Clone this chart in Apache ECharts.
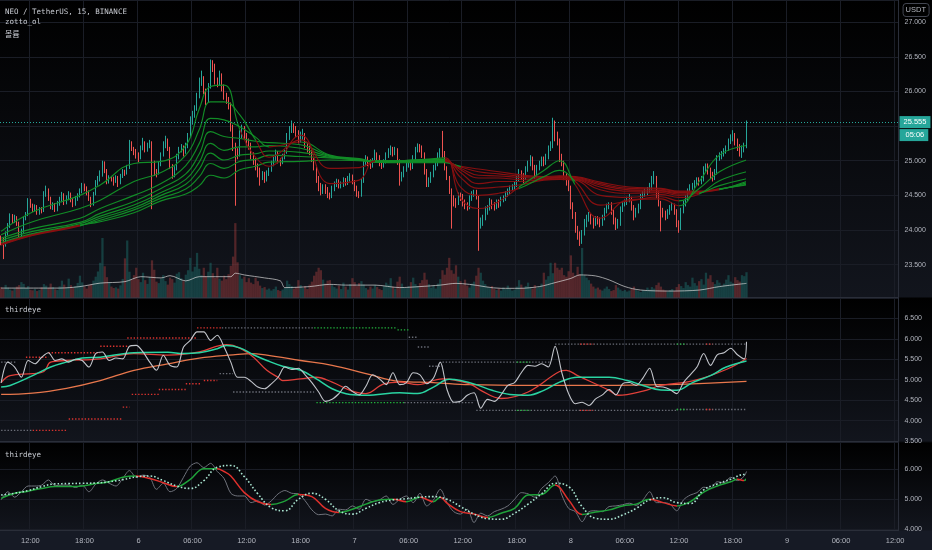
<!DOCTYPE html>
<html><head><meta charset="utf-8">
<script src="https://cdn.jsdelivr.net/npm/echarts/dist/echarts.min.js"></script>
<style>
html,body{margin:0;padding:0;width:932px;height:550px;overflow:hidden;
background:linear-gradient(to bottom,#000 0px,#12151d 297px,#000 298px,#12151d 441px,#000 443px,#12151d 530px,#161a25 531px,#161a25 550px);}
#c{width:932px;height:550px;}
</style></head><body><div id="c"></div>
<script>
// ================= DATA =================
// 15-minute slots from day 5 08:45 (399 slots fill the visible time range)
const categories = [];
for (let k = 0; k < 399; k++) {
  const m = 8 * 60 + 45 + 15 * k;
  const day = 5 + Math.floor(m / 1440), hm = m % 1440;
  categories.push(day + ' ' + String(Math.floor(hm / 60)).padStart(2, '0') + ':' + String(hm % 60).padStart(2, '0'));
}
const timeTicks = ['12:00','18:00','6','06:00','12:00','18:00','7','06:00','12:00','18:00','8','06:00','12:00','18:00','9','06:00','12:00'];

const firstOpen = 23.88;
const closes = [
23.86,23.80,23.95,24.06,24.20,24.14,24.18,24.10,23.95,23.98,
24.18,24.22,24.42,24.36,24.30,24.34,24.26,24.30,24.28,24.52,
24.58,24.46,24.34,24.36,24.30,24.38,24.44,24.50,24.40,24.46,
24.52,24.44,24.38,24.46,24.50,24.56,24.64,24.60,24.55,24.46,
24.38,24.52,24.68,24.74,24.80,24.96,24.86,24.70,24.76,24.74,
24.72,24.76,24.68,24.78,24.84,24.82,24.90,25.24,25.18,25.14,
25.08,25.04,25.18,25.26,25.16,25.22,25.26,24.98,24.84,24.82,
24.96,25.08,25.22,25.30,25.18,24.92,24.80,24.88,25.06,25.16,
25.20,25.12,25.22,25.36,25.58,25.66,25.76,25.92,26.14,26.18,
26.00,25.86,26.08,26.40,26.36,26.16,26.12,26.22,26.06,25.94,
25.88,25.80,25.48,25.20,25.12,25.10,25.38,25.46,25.36,25.28,
25.22,25.08,25.00,24.92,24.86,24.78,24.80,24.74,24.82,24.86,
24.96,25.04,25.10,25.00,24.98,25.06,25.12,25.34,25.44,25.50,
25.46,25.40,25.30,25.36,25.38,25.22,25.18,25.14,25.02,24.92,
24.74,24.64,24.56,24.62,24.58,24.50,24.48,24.60,24.66,24.70,
24.64,24.66,24.72,24.68,24.74,24.76,24.70,24.60,24.52,24.50,
24.70,24.96,25.02,24.98,24.94,25.00,25.10,25.04,24.98,24.94,
24.98,25.08,25.12,25.16,25.12,25.16,25.00,24.76,24.80,24.88,
24.94,24.96,24.90,25.04,25.16,25.20,25.18,25.10,24.86,24.66,
24.72,24.80,24.90,24.96,25.08,25.12,25.10,24.90,24.76,24.58,
24.44,24.42,24.40,24.50,24.48,24.40,24.36,24.34,24.46,24.52,
24.54,24.48,24.10,24.12,24.18,24.28,24.32,24.40,24.36,24.34,
24.40,24.38,24.44,24.46,24.52,24.56,24.60,24.62,24.66,24.74,
24.82,24.78,24.76,24.88,24.96,25.02,24.92,24.80,24.90,24.96,
25.02,24.98,25.06,25.18,25.22,25.40,25.36,25.30,25.04,24.98,
24.78,24.70,24.62,24.36,24.22,24.04,23.94,23.84,23.96,24.10,
24.16,24.20,24.14,24.10,24.16,24.14,24.10,24.18,24.28,24.34,
24.36,24.28,24.14,24.08,24.10,24.30,24.38,24.40,24.44,24.46,
24.34,24.22,24.28,24.34,24.48,24.52,24.56,24.58,24.62,24.72,
24.76,24.52,24.40,24.28,24.24,24.20,24.26,24.32,24.34,24.28,
24.10,24.04,24.28,24.38,24.46,24.56,24.62,24.64,24.68,24.72,
24.70,24.74,24.88,24.92,24.86,24.80,24.76,24.84,25.04,25.08,
25.10,25.14,25.18,25.28,25.32,25.36,25.28,25.20,25.14,25.18,
25.22,25.555];
const lows = [
23.78,23.58,23.76,23.92,24.03,24.10,24.10,24.06,23.90,23.88,
23.96,24.14,24.20,24.32,24.26,24.27,24.22,24.22,24.24,24.26,
24.48,24.42,24.30,24.29,24.26,24.27,24.35,24.40,24.36,24.37,
24.43,24.40,24.33,24.35,24.42,24.47,24.53,24.56,24.50,24.42,
24.33,24.35,24.50,24.64,24.70,24.77,24.82,24.66,24.67,24.70,
24.64,24.68,24.62,24.66,24.75,24.78,24.80,24.88,25.14,25.08,
25.03,24.98,25.02,25.15,25.12,25.13,25.18,24.30,24.78,24.76,
24.80,24.92,25.06,25.18,25.14,24.88,24.74,24.76,24.86,25.02,
25.12,25.06,25.10,25.18,25.34,25.52,25.62,25.72,25.90,26.08,
25.96,25.80,25.84,26.04,26.28,26.10,26.06,26.08,26.00,25.88,
25.82,25.74,25.42,25.14,24.35,25.02,25.06,25.32,25.30,25.22,
25.16,25.02,24.94,24.86,24.76,24.64,24.72,24.68,24.70,24.78,
24.84,24.92,25.00,24.96,24.92,24.95,25.02,25.10,25.30,25.40,
25.40,25.34,25.25,25.26,25.30,25.18,25.12,25.08,24.98,24.86,
24.68,24.56,24.50,24.52,24.52,24.46,24.44,24.46,24.56,24.62,
24.60,24.60,24.62,24.64,24.65,24.70,24.66,24.56,24.48,24.46,
24.48,24.68,24.92,24.92,24.88,24.90,24.98,24.98,24.92,24.88,
24.90,24.96,25.04,25.08,25.06,25.08,24.94,24.64,24.70,24.76,
24.84,24.90,24.86,24.88,25.00,25.12,25.12,25.04,24.80,24.62,
24.62,24.68,24.76,24.86,24.92,25.04,25.04,24.86,24.72,24.52,
24.02,24.34,24.32,24.36,24.42,24.34,24.30,24.28,24.30,24.42,
24.48,24.44,23.70,24.02,24.06,24.14,24.22,24.28,24.30,24.28,
24.30,24.32,24.34,24.40,24.42,24.48,24.52,24.56,24.58,24.62,
24.70,24.72,24.68,24.72,24.84,24.92,24.86,24.74,24.76,24.86,
24.92,24.92,24.94,25.02,25.14,25.18,25.28,25.22,24.98,24.92,
24.72,24.64,24.56,24.30,24.16,23.96,23.86,23.77,23.80,23.92,
24.04,24.12,24.08,24.02,24.06,24.08,24.04,24.06,24.14,24.24,
24.30,24.22,24.08,24.00,24.02,24.06,24.26,24.34,24.36,24.40,
24.28,24.14,24.18,24.24,24.30,24.44,24.48,24.50,24.54,24.58,
24.66,24.46,24.34,23.98,24.18,24.14,24.16,24.22,24.28,24.22,
24.04,23.96,24.00,24.24,24.34,24.42,24.52,24.58,24.60,24.64,
24.64,24.66,24.70,24.84,24.80,24.74,24.70,24.72,24.80,25.00,
25.02,25.06,25.10,25.14,25.24,25.28,25.22,25.14,25.06,25.04,
25.12,25.18];
const highs = [
23.92,23.90,23.98,24.10,24.24,24.23,24.22,24.20,24.12,24.02,
24.20,24.26,24.46,24.45,24.38,24.37,24.36,24.33,24.33,24.56,
24.64,24.60,24.48,24.40,24.39,24.42,24.48,24.55,24.53,24.50,
24.56,24.54,24.46,24.49,24.53,24.60,24.68,24.67,24.63,24.57,
24.48,24.55,24.72,24.78,24.86,25.00,24.99,24.88,24.79,24.78,
24.77,24.79,24.78,24.81,24.88,24.87,24.94,25.30,25.28,25.20,
25.17,25.12,25.22,25.33,25.28,25.26,25.30,25.28,25.00,24.88,
24.99,25.12,25.28,25.36,25.32,25.20,24.95,24.92,25.10,25.20,
25.24,25.22,25.26,25.40,25.64,25.72,25.80,25.98,26.20,26.30,
26.22,26.04,26.12,26.46,26.45,26.40,26.20,26.30,26.26,26.10,
25.98,25.92,25.84,25.52,25.26,25.18,25.44,25.52,25.50,25.40,
25.32,25.26,25.12,25.04,24.96,24.90,24.85,24.84,24.86,24.90,
25.00,25.08,25.16,25.14,25.04,25.10,25.16,25.40,25.50,25.58,
25.54,25.50,25.44,25.42,25.46,25.40,25.26,25.22,25.16,25.04,
24.94,24.78,24.68,24.66,24.66,24.62,24.54,24.64,24.70,24.74,
24.73,24.70,24.76,24.75,24.78,24.82,24.80,24.72,24.64,24.56,
24.74,25.00,25.08,25.06,25.02,25.04,25.16,25.12,25.08,25.00,
25.02,25.12,25.18,25.22,25.20,25.20,25.18,25.02,24.84,24.92,
24.98,25.00,24.99,25.08,25.20,25.25,25.24,25.22,25.12,24.88,
24.76,24.84,24.94,25.00,25.12,25.18,25.43,25.14,24.92,24.78,
24.60,24.50,24.46,24.54,24.54,24.52,24.44,24.40,24.50,24.56,
24.58,24.58,24.50,24.18,24.22,24.34,24.36,24.46,24.44,24.40,
24.44,24.44,24.48,24.50,24.56,24.60,24.64,24.66,24.70,24.78,
24.88,24.86,24.82,24.92,25.00,25.08,25.06,24.94,24.94,25.00,
25.06,25.06,25.10,25.22,25.28,25.62,25.58,25.42,25.32,25.10,
25.00,24.82,24.74,24.64,24.40,24.26,24.06,23.98,24.00,24.16,
24.22,24.26,24.24,24.18,24.20,24.20,24.18,24.22,24.32,24.38,
24.40,24.40,24.30,24.18,24.16,24.34,24.42,24.44,24.48,24.52,
24.48,24.36,24.32,24.38,24.52,24.56,24.60,24.62,24.68,24.78,
24.85,24.78,24.56,24.42,24.32,24.28,24.30,24.36,24.40,24.38,
24.30,24.14,24.32,24.42,24.50,24.60,24.66,24.68,24.72,24.76,
24.76,24.78,24.92,24.96,24.96,24.90,24.84,24.88,25.08,25.12,
25.14,25.18,25.22,25.32,25.38,25.44,25.40,25.32,25.24,25.22,
25.26,25.58];
const volumes = [
4.2,3.5,5.1,4.0,3.2,2.8,3.6,4.4,5.0,6.2,
5.5,3.8,4.6,3.1,2.9,3.4,2.6,3.0,4.1,5.4,
4.8,3.9,5.6,4.2,3.3,3.0,4.5,6.8,5.2,4.0,
7.6,5.0,3.8,4.6,5.9,8.8,6.1,4.4,3.6,4.9,
5.3,6.8,8.4,10.5,14.0,24.0,12.6,8.2,6.0,4.4,
3.8,4.1,3.6,4.9,7.5,15.8,23.0,10.4,7.2,9.0,
12.0,7.4,6.2,10.0,7.0,5.5,8.3,15.0,11.2,6.4,
5.8,7.6,9.0,6.6,5.2,8.0,7.4,6.0,9.6,10.2,
7.8,6.6,9.2,11.0,16.0,10.5,12.4,18.0,11.6,9.0,
12.0,8.6,10.4,14.0,9.8,8.0,12.0,7.6,6.8,8.8,
7.4,9.4,12.8,16.5,30.0,14.2,9.0,7.6,8.4,6.2,
7.8,6.0,5.4,8.0,6.6,4.8,3.8,4.2,3.2,3.6,
2.8,3.4,4.4,3.0,2.6,3.2,4.0,6.8,5.4,4.6,
3.6,4.2,7.0,5.0,3.8,4.6,3.4,5.2,6.4,8.8,
10.4,12.0,11.0,7.2,5.6,6.8,7.0,5.0,4.2,3.6,
4.8,3.4,6.0,4.4,3.2,5.4,7.8,6.2,4.6,5.8,
6.6,5.2,3.8,3.2,4.4,3.6,5.0,4.2,3.4,3.0,
4.6,6.0,5.2,7.8,4.4,3.6,6.4,8.4,5.6,4.2,
3.8,4.6,6.2,8.0,5.4,4.6,5.8,7.0,10.0,7.2,
5.4,4.0,4.8,3.6,5.6,7.4,11.0,9.2,12.0,16.0,
11.0,9.6,13.0,8.4,6.6,5.2,7.2,4.8,4.0,5.6,
6.4,8.8,12.0,10.0,6.8,5.4,4.2,3.8,4.6,3.4,
3.0,3.6,2.8,4.0,3.4,4.8,3.6,2.8,3.2,4.4,
7.0,5.2,3.8,4.6,6.0,4.2,3.6,5.0,3.8,4.4,
5.6,10.0,7.2,8.6,14.0,9.8,14.0,12.0,11.2,12.0,
9.0,8.4,10.6,17.0,10.0,8.8,12.4,9.4,20.0,9.0,
8.0,7.0,5.6,4.4,3.6,4.0,3.2,2.8,3.6,4.4,
3.4,2.6,3.0,5.0,4.0,3.2,2.6,3.0,2.4,2.8,
3.6,4.4,3.0,2.6,2.2,3.0,2.8,4.0,3.2,4.2,
3.6,5.0,6.0,4.4,3.2,2.8,2.4,3.0,3.4,2.6,
4.2,5.4,4.6,3.8,6.2,5.0,4.4,8.0,5.8,4.8,
6.6,7.4,5.2,10.0,7.6,9.0,6.2,5.4,7.0,6.0,
4.8,5.6,7.2,9.0,6.4,5.8,8.2,7.0,6.4,9.0,
8.6,10.2];
const volMaIdx = [0,26,35,44,55,62,71,75,82,88,102,104,108,117,124,126,137,146,153,166,177,186,195,202,208,222,230,239,246,253,257,264,270,277,284,297,310,319,331];
const volMa    = [3.8,3.8,4.4,5.8,6.4,8.4,7.9,8.8,6.7,8.4,8.4,9.8,9.1,7.9,6.7,4.0,4.4,5.3,5.0,5.0,4.0,4.4,5.0,5.7,5.3,3.7,3.7,4.4,6.0,7.7,9.1,8.7,7.1,4.4,3.0,2.6,3.0,4.4,5.7];
const lastPrice = 25.555;
const countdown = '05:06';

// moving-average ribbon (fastest L1 .. slowest L8), read at these slots
const ribbonIdx = [0,14,35,44,59,71,82,88,93,99,106,113,119,133,146,159,166,177,188,197,204,212,221,230,241,248,255,266,279,293,301,310,319,331];
const ribbon1 = [23.98,24.26,24.50,24.65,24.96,24.99,25.22,25.75,26.07,26.09,25.45,25.05,24.92,25.37,24.67,24.72,25.00,25.00,25.02,25.04,24.46,24.31,24.41,24.62,24.86,25.00,24.65,24.17,24.44,24.45,24.35,24.70,25.08,25.22];
const ribbon2 = [23.93,24.12,24.31,24.43,24.70,24.83,25.08,25.45,25.85,25.85,25.66,25.30,25.05,25.30,24.89,24.90,24.99,25.00,25.01,25.02,24.62,24.50,24.53,24.60,24.77,24.86,24.70,24.36,24.42,24.48,24.42,24.60,24.84,25.01];
const ribbon3 = [23.88,24.02,24.17,24.31,24.50,24.67,24.93,25.25,25.61,25.59,25.49,25.34,25.20,25.27,25.08,25.03,24.99,25.00,25.01,25.01,24.76,24.60,24.62,24.65,24.72,24.73,24.72,24.50,24.47,24.51,24.47,24.52,24.71,24.84];
const ribbon4 = [23.85,23.98,24.11,24.24,24.41,24.60,24.81,25.10,25.42,25.35,25.32,25.28,25.26,25.23,25.07,25.02,24.99,25.00,25.01,25.01,24.83,24.67,24.70,24.70,24.73,24.74,24.73,24.58,24.53,24.54,24.50,24.53,24.64,24.74];
const ribbon5 = [23.82,23.95,24.09,24.20,24.36,24.54,24.73,24.98,25.25,25.15,25.20,25.20,25.22,25.18,25.06,25.02,24.99,24.99,25.00,25.00,24.87,24.75,24.75,24.73,24.74,24.75,24.74,24.62,24.56,24.56,24.52,24.54,24.58,24.70];
const ribbon6 = [23.78,23.92,24.06,24.17,24.32,24.50,24.66,24.88,25.11,25.01,25.08,25.10,25.14,25.12,25.05,25.01,24.99,24.99,24.99,24.99,24.89,24.79,24.78,24.76,24.75,24.76,24.75,24.65,24.58,24.57,24.54,24.55,24.585,24.68];
const ribbon7 = [23.79,23.93,24.065,24.14,24.29,24.46,24.59,24.77,24.96,24.89,24.99,25.02,25.08,25.06,25.04,25.01,24.98,24.98,24.98,24.98,24.91,24.84,24.81,24.78,24.76,24.77,24.76,24.67,24.60,24.59,24.55,24.555,24.59,24.66];
const ribbon8 = [23.80,23.94,24.07,24.12,24.25,24.42,24.52,24.64,24.79,24.75,24.87,24.92,24.98,24.99,25.01,25.00,24.98,24.97,24.97,24.97,24.92,24.88,24.84,24.80,24.77,24.78,24.77,24.69,24.62,24.60,24.56,24.56,24.595,24.65];

// ---- pane 2 "thirdeye" ----
const eyeStep3Idx = [];
for (let i = 0; i <= 330; i += 3) eyeStep3Idx.push(i);
eyeStep3Idx.push(331);
const eyeWhite = [
4.92,5.43,5.31,5.06,5.47,5.39,5.55,5.66,5.47,5.51,
5.43,5.50,5.47,5.31,5.64,5.68,5.47,5.53,5.51,5.82,
5.84,5.68,5.43,5.23,5.60,5.35,5.31,5.80,5.96,6.17,
6.17,5.96,6.09,5.80,5.43,5.06,5.06,4.96,4.82,4.78,
4.90,5.06,5.31,5.25,5.28,5.12,4.93,4.70,4.47,4.52,
4.66,4.84,4.71,4.63,4.84,5.12,5.02,4.88,5.17,4.88,
4.93,5.17,5.12,4.90,5.04,5.43,4.76,4.45,4.47,4.62,
4.68,4.30,4.52,4.47,4.63,4.86,4.93,5.17,5.35,5.33,
5.39,5.31,5.82,5.17,4.66,4.41,4.45,4.37,4.53,4.63,
4.76,4.63,4.90,4.93,4.86,5.04,5.28,4.84,4.82,4.76,
4.66,4.93,5.12,5.31,5.64,5.35,5.61,5.66,5.77,5.61,
5.51,5.93];
const eyeTealIdx = [0,4,14,22,29,36,44,59,74,81,88,96,100,106,112,118,125,133,140,147,155,162,177,185,192,199,204,211,218,226,234,241,248,256,270,278,285,293,300,307,315,322,331];
const eyeTeal    = [4.82,4.86,5.10,5.31,5.43,5.53,5.55,5.66,5.67,5.64,5.66,5.76,5.84,5.78,5.61,5.47,5.33,5.23,5.02,4.78,4.64,4.62,4.68,4.66,4.82,5.01,4.98,4.88,4.74,4.64,4.62,4.74,4.94,5.06,5.06,4.98,4.86,4.75,4.74,4.93,5.10,5.31,5.46];
const eyeRedIdx = [0,4,14,19,22,29,44,59,74,88,100,103,111,118,123,125,133,140,147,155,162,170,177,185,196,208,213,222,234,248,251,256,270,274,285,293,307,322,331];
const eyeRed    = [4.93,5.10,5.15,5.20,5.43,5.47,5.51,5.64,5.60,5.68,5.86,5.84,5.60,5.23,5.06,4.98,5.02,5.06,4.94,4.74,4.66,4.90,4.94,4.88,5.02,4.90,4.74,4.54,4.70,5.20,5.23,5.10,4.74,4.62,4.72,4.86,4.97,5.25,5.52];
const eyeOrangeIdx = [0,14,29,44,59,74,88,103,111,118,133,147,162,177,192,208,234,263,293,307,331];
const eyeOrange    = [4.64,4.67,4.79,4.98,5.23,5.39,5.53,5.61,5.64,5.60,5.47,5.35,5.15,4.96,4.93,4.88,4.86,4.86,4.88,4.90,4.96];
// level segments: start slot, end slot, level, state (1 bull, -1 bear, 0 neutral)
const levelStart = [0,0,14,30,54,58,70,82,90,97,11,21,44,56,87,98,139,176,181,185,190,196,229,103,140,179,211,229,257,300,300,313,246,257,300,313];
const levelEnd   = [7,14,29,54,57,70,82,89,96,103,21,44,56,87,98,139,176,181,185,190,196,244,235,139,179,210,300,235,263,331,304,316,331,263,304,316];
const levelValue = [5.43,3.76,3.76,4.04,4.33,4.64,4.76,4.90,4.98,5.15,5.55,5.66,5.82,6.02,6.27,6.27,6.27,6.22,6.04,5.80,5.33,5.43,5.43,4.70,4.44,4.44,4.25,4.25,4.25,4.27,4.27,4.27,5.87,5.87,5.87,5.87];
const levelState = [0,0,-1,-1,-1,-1,-1,-1,-1,0,-1,-1,-1,-1,-1,0,1,1,0,0,0,0,1,0,1,0,0,1,-1,0,1,-1,0,-1,1,-1];

// ---- pane 3 "thirdeye" ----
const eyeGrey = [
4.98,5.25,5.07,5.25,5.44,5.44,5.47,5.64,5.45,5.47,
5.47,5.39,5.47,5.25,5.50,5.64,5.53,5.44,5.69,5.95,
5.73,5.80,5.73,5.33,5.53,5.25,5.36,5.73,6.10,6.21,
6.05,6.19,5.92,5.69,5.20,5.11,5.11,4.89,4.95,4.81,
4.95,5.18,5.29,5.20,5.18,4.95,4.65,4.49,4.51,4.45,
4.67,4.65,4.78,4.67,5.00,4.92,4.98,5.11,4.83,5.00,
5.11,4.89,5.20,4.78,4.98,5.33,4.89,4.59,4.51,4.67,
4.23,4.54,4.45,4.59,4.67,4.78,5.00,5.22,5.18,5.07,
5.36,5.55,5.77,5.14,4.70,4.59,4.26,4.59,4.62,4.59,
4.76,4.78,4.82,4.87,4.80,4.98,5.25,4.89,4.89,4.84,
4.62,4.98,5.14,5.22,5.40,5.36,5.58,5.55,5.73,5.62,
5.77,5.92];
const eyeSigIdx = [0,6,12,18,24,30,36,42,48,54,60,66,72,78,84,90,96,99,102,108,114,120,126,132,138,144,150,156,162,168,174,180,186,192,195,198,204,210,216,222,228,234,240,246,252,258,264,270,276,282,288,294,300,306,312,318,324,327,330,331];
const eyeSig    = [5.03,5.20,5.27,5.36,5.42,5.42,5.44,5.52,5.58,5.73,5.77,5.69,5.55,5.42,5.66,6.01,6.01,5.92,5.77,5.22,4.92,4.83,4.94,5.16,5.09,4.70,4.56,4.67,4.84,4.98,5.00,4.92,5.07,4.92,5.07,4.87,4.59,4.51,4.40,4.54,4.70,5.14,5.16,5.47,4.98,4.50,4.58,4.65,4.78,4.84,5.00,4.89,4.78,4.92,5.24,5.44,5.58,5.66,5.62,5.68];
const eyeSlowIdx = [];
for (let i = 0; i <= 330; i += 6) eyeSlowIdx.push(i);
eyeSlowIdx.push(331);
const eyeSlow = [5.14,5.20,5.29,5.42,5.51,5.52,5.53,5.54,5.58,5.65,5.74,5.77,5.62,5.44,5.36,5.62,6.06,6.12,5.75,5.18,4.72,4.62,5.00,5.20,5.00,4.62,4.51,4.70,4.89,4.98,5.02,5.07,5.09,5.00,4.76,4.51,4.36,4.34,4.54,4.84,5.18,5.53,5.42,4.76,4.37,4.34,4.48,4.70,4.98,5.05,4.89,4.86,5.31,5.51,5.66,5.82,5.82];

// ================= BUILD =================
const UP = '#26a69a', DOWN = '#ef5350';
const RIB_G = '#118c26', RIB_R = '#860f10';
const SIG_G = '#1fa23a', SIG_R = '#e0302c';
const GRID_C = '#1a1d26', AX_C = '#2a2e39', LBL_C = '#b2b5be';
const FONT = 'Liberation Sans';

const tickPos = [];
categories.forEach((c, i) => {
  const [h, m] = c.split(' ')[1].split(':').map(Number);
  if (m === 0 && h % 6 === 0) tickPos.push(i);
});
const opens = closes.map((c, i) => i === 0 ? firstOpen : closes[i - 1]);
const candleData = closes.map((c, i) => [opens[i], c, lows[i], highs[i]]);
const volData = volumes.map((v, i) => ({ value: v, itemStyle: { color: closes[i] >= opens[i] ? 'rgba(38,166,154,0.30)' : 'rgba(239,83,80,0.30)' } }));
const pairs = (idx, vals) => idx.map((x, j) => [x, vals[j]]);

const series = [];
const visualMaps = [];

series.push({ type: 'bar', xAxisIndex: 0, yAxisIndex: 1, data: volData, barWidth: '100%', silent: true });
series.push({ type: 'line', xAxisIndex: 0, yAxisIndex: 1, data: pairs(volMaIdx, volMa), symbol: 'none', smooth: 0.3,
  lineStyle: { color: 'rgba(215,215,215,0.7)', width: 1 }, silent: true });

const ribbons = [ribbon1, ribbon2, ribbon3, ribbon4, ribbon5, ribbon6, ribbon7, ribbon8];
for (let k = 7; k >= 0; k--) {
  const L = ribbons[k], R = k < 7 ? ribbons[k + 1] : ribbons[6];
  const pieces = [];
  for (let j = 0; j < ribbonIdx.length - 1; j++) {
    const a = (L[j] + L[j + 1]) / 2, b = (R[j] + R[j + 1]) / 2;
    const bull = k < 7 ? a >= b - 1e-9 : a <= b + 1e-9;
    const p = { gte: ribbonIdx[j], color: bull ? RIB_G : RIB_R };
    if (j === ribbonIdx.length - 2) p.lte = ribbonIdx[j + 1]; else p.lt = ribbonIdx[j + 1];
    pieces.push(p);
  }
  visualMaps.push({ type: 'piecewise', show: false, dimension: 0, seriesIndex: series.length, pieces });
  series.push({ type: 'line', xAxisIndex: 0, yAxisIndex: 0, data: pairs(ribbonIdx, L), symbol: 'none', smooth: 0.45,
    lineStyle: { width: 1.15 }, silent: true });
}

series.push({
  type: 'candlestick', xAxisIndex: 0, yAxisIndex: 0, data: candleData, barWidth: 1,
  itemStyle: { color: UP, color0: DOWN, borderColor: UP, borderColor0: DOWN, borderWidth: 1 },
  markLine: {
    silent: true, symbol: ['none', 'none'], animation: false,
    data: [{ yAxis: lastPrice }],
    lineStyle: { color: UP, type: [1, 2], width: 1 },
    label: {
      show: true, position: 'end', distance: 1,
      formatter: () => '{e| }\n{a|' + lastPrice.toFixed(3) + '}\n{b|' + countdown + '}',
      rich: {
        e: { fontSize: 7, lineHeight: 12 },
        a: { backgroundColor: UP, color: '#ffffff', fontSize: 7.5, fontFamily: FONT, padding: [2, 4, 2, 4], lineHeight: 13 },
        b: { backgroundColor: UP, color: '#ffffff', fontSize: 7.5, fontFamily: FONT, padding: [2, 4, 2, 6], lineHeight: 13 }
      }
    }
  }
});

// pane 2
const LV_C = { '1': '#22b03c', '-1': '#d8332f', '0': '#6b6e78' };
levelStart.forEach((s, j) => {
  series.push({ type: 'line', xAxisIndex: 1, yAxisIndex: 2, symbol: 'none', silent: true,
    data: [[s, levelValue[j]], [levelEnd[j], levelValue[j]]],
    lineStyle: { color: LV_C[String(levelState[j])], width: 1.4, type: [1.4, 1.8] } });
});
series.push({ type: 'line', xAxisIndex: 1, yAxisIndex: 2, data: pairs(eyeOrangeIdx, eyeOrange), symbol: 'none', smooth: 0.4,
  lineStyle: { color: '#e8774c', width: 1.3 }, silent: true });
series.push({ type: 'line', xAxisIndex: 1, yAxisIndex: 2, data: pairs(eyeRedIdx, eyeRed), symbol: 'none', smooth: 0.4,
  lineStyle: { color: '#e0403a', width: 1.3 }, silent: true });
series.push({ type: 'line', xAxisIndex: 1, yAxisIndex: 2, data: pairs(eyeTealIdx, eyeTeal), symbol: 'none', smooth: 0.4,
  lineStyle: { color: '#2ad4a2', width: 1.5 }, silent: true });
series.push({ type: 'line', xAxisIndex: 1, yAxisIndex: 2, data: pairs(eyeStep3Idx, eyeWhite), symbol: 'none', smooth: 0.3,
  lineStyle: { color: '#c3c6cc', width: 1.1 }, silent: true });

// pane 3
series.push({ type: 'line', xAxisIndex: 2, yAxisIndex: 3, data: pairs(eyeStep3Idx, eyeGrey), symbol: 'none', smooth: 0.3,
  lineStyle: { color: '#70737c', width: 1 }, silent: true });
{
  const pieces = [];
  for (let j = 0; j < eyeSigIdx.length - 1; j++) {
    const p = { gte: eyeSigIdx[j], color: eyeSig[j + 1] >= eyeSig[j] ? SIG_G : SIG_R };
    if (j === eyeSigIdx.length - 2) p.lte = eyeSigIdx[j + 1]; else p.lt = eyeSigIdx[j + 1];
    pieces.push(p);
  }
  visualMaps.push({ type: 'piecewise', show: false, dimension: 0, seriesIndex: series.length, pieces });
  series.push({ type: 'line', xAxisIndex: 2, yAxisIndex: 3, data: pairs(eyeSigIdx, eyeSig), symbol: 'none', smooth: 0.4,
    lineStyle: { width: 1.5 }, silent: true });
}
series.push({ type: 'line', xAxisIndex: 2, yAxisIndex: 3, data: pairs(eyeSlowIdx, eyeSlow), symbol: 'none', smooth: 0.45,
  lineStyle: { color: '#a9e4d0', width: 1.6, type: [1.6, 2] }, silent: true });

function xAx(g, showLabel) {
  return {
    type: 'category', gridIndex: g, data: categories, boundaryGap: true,
    axisLine: { show: true, lineStyle: { color: AX_C, width: 1 } },
    axisTick: { show: false },
    axisLabel: showLabel ? {
      show: true, interval: (i) => tickPos.includes(i),
      formatter: (v, i) => timeTicks[tickPos.indexOf(i)] || '',
      color: LBL_C, fontSize: 7.5, fontFamily: FONT, margin: 6
    } : { show: false },
    splitLine: { show: true, interval: (i) => tickPos.includes(i), lineStyle: { color: GRID_C, width: 1 } }
  };
}
function yAx(g, extra) {
  return Object.assign({
    type: 'value', gridIndex: g, position: 'right', scale: true,
    axisLine: { show: true, lineStyle: { color: AX_C, width: 1 } },
    axisTick: { show: false },
    splitLine: { show: true, lineStyle: { color: GRID_C, width: 1 } },
    axisLabel: { color: LBL_C, fontSize: 7, fontFamily: FONT, margin: 6, formatter: (v) => v.toFixed(3) }
  }, extra);
}
const TS = { color: '#c8cbd2', fontSize: 7.5, fontWeight: 'normal', fontFamily: 'DejaVu Sans Mono' };
const t = (text, top, extra) => Object.assign({ text, left: 5, top, padding: 0, textStyle: TS }, extra || {});

const chart = echarts.init(document.getElementById('c'), null, { renderer: 'canvas' });
chart.setOption({
  backgroundColor: 'transparent',
  animation: false,
  textStyle: { fontFamily: FONT },
  title: [
    t('NEO / TetherUS, 15, BINANCE', 8),
    t('zotto_ol', 18.5),
    t('볼륨', 30, { textStyle: { color: '#c8cbd2', fontSize: 8, fontWeight: 'normal', fontFamily: 'Noto Sans CJK KR' } }),
    t('thirdeye', 306),
    t('thirdeye', 451),
    { text: 'USDT', right: 3, top: 3, left: 'auto', padding: [3, 3], borderColor: '#434651', borderWidth: 1, borderRadius: 3,
      textStyle: { color: LBL_C, fontSize: 7.5, fontWeight: 'normal', fontFamily: FONT } }
  ],
  grid: [
    { left: 0, right: 33.5, top: 0, height: 297.5, outerBoundsMode: 'none' },
    { left: 0, right: 33.5, top: 298, height: 143, outerBoundsMode: 'none' },
    { left: 0, right: 33.5, top: 442.7, height: 88, outerBoundsMode: 'none' }
  ],
  xAxis: [xAx(0, false), xAx(1, false), xAx(2, true)],
  yAxis: [
    yAx(0, { min: 23.026, max: 27.319, splitNumber: 8, axisLabel: { color: LBL_C, fontSize: 7, fontFamily: FONT, margin: 6, showMinLabel: false, showMaxLabel: false, formatter: (v) => v.toFixed(3) } }),
    { type: 'value', gridIndex: 0, min: 0, max: 120, show: false, splitLine: { show: false } },
    yAx(1, { min: 3.5, max: 7.0, interval: 0.5, scale: false, axisLabel: { color: LBL_C, fontSize: 7, fontFamily: FONT, margin: 6, showMaxLabel: false, formatter: (v) => v.toFixed(3) } }),
    yAx(2, { min: 3.96, max: 6.874, splitNumber: 3, axisLabel: { color: LBL_C, fontSize: 7, fontFamily: FONT, margin: 6, showMinLabel: false, showMaxLabel: false, formatter: (v) => v.toFixed(3) } })
  ],
  visualMap: visualMaps,
  series
});
</script></body></html>
